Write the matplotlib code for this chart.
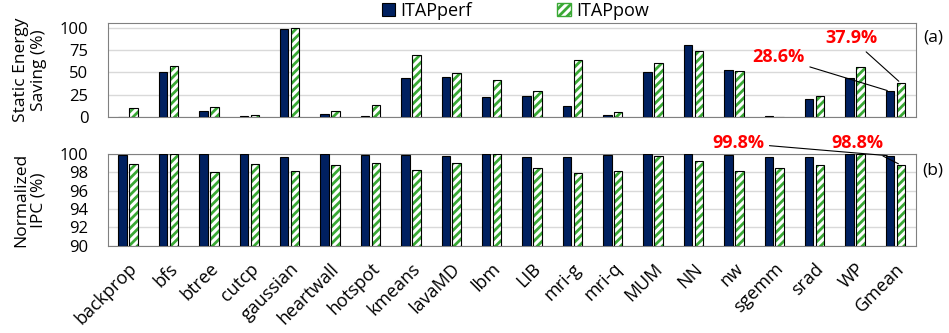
import matplotlib.pyplot as plt
from matplotlib.patches import Patch
import numpy as np

plt.rcParams['font.family'] = ['Open Sans', 'DejaVu Sans']
plt.rcParams['hatch.linewidth'] = 2.0

# benchmarks
apps = ['backprop', 'bfs', 'btree', 'cutcp', 'gaussian', 'heartwall', 'hotspot',
        'kmeans', 'lavaMD', 'lbm', 'LIB', 'mri-g', 'mri-q', 'MUM', 'NN', 'nw',
        'sgemm', 'srad', 'WP', 'Gmean']

# (a) static energy saving (%)
saving_perf = [0, 50, 6, 1.1, 98.5, 3, 0.3, 43.2, 44.6, 22.5, 23.6, 12, 2.3,
               50.6, 80.6, 52.9, 0.3, 19.5, 43.5, 28.6]
saving_pow = [9.4, 56.7, 11.3, 1.5, 99.5, 6.4, 12.8, 69.4, 49, 41.3, 29.3, 64.5,
              5.3, 60.8, 74.3, 51.4, 0, 22.9, 56.2, 37.9]

# (b) normalized IPC (%)
ipc_perf = [99.9, 100, 100, 100, 99.7, 100, 99.85, 99.9, 99.75, 100, 99.7, 99.7,
            99.85, 100, 99.95, 99.9, 99.65, 99.65, 100, 99.8]
ipc_pow = [98.9, 100, 98.05, 98.9, 98.1, 98.85, 99.0, 98.3, 99.0, 100, 98.5, 97.9,
           98.15, 99.8, 99.2, 98.2, 98.5, 98.8, 100, 98.8]

navy = '#002060'
green = '#3aa935'
x = np.arange(len(apps))
w = 0.21
off = 0.135

fig = plt.figure(figsize=(9.49, 3.33), dpi=100)
ax1 = fig.add_axes([0.1138, 0.6495, 0.851, 0.2823])
ax2 = fig.add_axes([0.1138, 0.2622, 0.851, 0.2753])


def draw(ax, perf, pow_, base):
    ax.bar(x - off, np.array(perf) - base, w, bottom=base, color=navy,
           edgecolor='black', linewidth=0.8, zorder=3)
    ax.bar(x + off, np.array(pow_) - base, w, bottom=base, color='white',
           edgecolor=green, hatch='////', linewidth=0, zorder=3)
    ax.bar(x + off, np.array(pow_) - base, w, bottom=base, fill=False,
           edgecolor='black', linewidth=0.8, zorder=4)
    ax.set_xlim(-0.5, len(apps) - 0.5)
    ax.grid(axis='y', color='#d9d9d9', linewidth=1, zorder=0)
    for s in ax.spines.values():
        s.set_color('#808080')
    ax.tick_params(axis='both', length=0, labelsize=12)
    ax.tick_params(axis='y', pad=14)


draw(ax1, saving_perf, saving_pow, 0)
ax1.set_ylim(0, 106)
ax1.set_yticks([0, 25, 50, 75, 100])
ax1.set_xticks(x)
ax1.set_xticklabels([])
ax1.set_ylabel('Static Energy\nSaving (%)', fontsize=12.5, linespacing=1.15)
ax1.yaxis.set_label_coords(-0.076, 0.5)

draw(ax2, ipc_perf, ipc_pow, 90)
ax2.set_ylim(90, 100)
ax2.set_yticks([90, 92, 94, 96, 98, 100])
ax2.set_xticks(x)
ax2.set_xticklabels(apps, rotation=45, ha='right', rotation_mode='anchor', fontsize=13)
ax2.tick_params(axis='x', pad=10)
ax2.set_ylabel('Normalized\nIPC (%)', fontsize=12.5, linespacing=1.15)
ax2.yaxis.set_label_coords(-0.076, 0.5)

# annotations
ann = dict(color='red', fontsize=13, fontweight='bold', ha='center', va='center',
           annotation_clip=False)
line = dict(arrowstyle='-', color='black', lw=0.8)
ax1.annotate('37.9%', xy=(19 + off, 37.9), xytext=(17.9, 88.5), arrowprops=line, **ann)
ax1.annotate('28.6%', xy=(19 - off, 28.6), xytext=(16.1, 67), arrowprops=line, **ann)
ax2.annotate('99.8%', xy=(19 - off, 99.8), xytext=(15.1, 101.2), arrowprops=line, **ann)
ax2.annotate('98.8%', xy=(19 + off, 98.8), xytext=(18.05, 101.2), arrowprops=line, **ann)

fig.text(0.983, 0.886, '(a)', fontsize=12.5, ha='center', va='center')
fig.text(0.983, 0.489, '(b)', fontsize=12.5, ha='center', va='center')

handles = [Patch(facecolor=navy, edgecolor='black', linewidth=0.8, label='ITAPperf'),
           Patch(facecolor='white', edgecolor=green, hatch='////', label='ITAPpow')]
fig.legend(handles=handles, loc='center', bbox_to_anchor=(0.543, 0.968), ncol=2,
           frameon=False, fontsize=13, columnspacing=4.7, handlelength=0.75,
           handleheight=0.75, handletextpad=0.3)

fig.savefig('out.png', dpi=100)
